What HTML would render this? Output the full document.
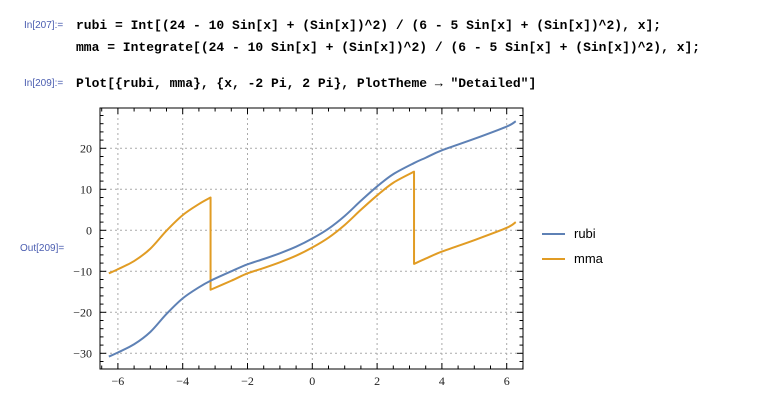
<!DOCTYPE html>
<html><head><meta charset="utf-8"><style>
body{margin:0;background:#fff;width:764px;height:412px;overflow:hidden;position:relative;font-family:"Liberation Sans",sans-serif}
.lbl{position:absolute;font-size:10px;color:#4a5db0;font-family:"Liberation Sans",sans-serif}
.code{position:absolute;font-family:"Liberation Mono",monospace;font-weight:bold;font-size:13px;color:#000;white-space:pre}
</style></head><body>
<div class="lbl" style="left:24px;top:20px">In[207]:=</div>
<div class="code" style="left:76px;top:18px">rubi = Int[(24 - 10 Sin[x] + (Sin[x])^2) / (6 - 5 Sin[x] + (Sin[x])^2), x];</div>
<div class="code" style="left:76px;top:40px">mma = Integrate[(24 - 10 Sin[x] + (Sin[x])^2) / (6 - 5 Sin[x] + (Sin[x])^2), x];</div>
<div class="lbl" style="left:24px;top:78px">In[209]:=</div>
<div class="code" style="left:76px;top:76px">Plot[{rubi, mma}, {x, -2 Pi, 2 Pi}, PlotTheme → "Detailed"]</div>
<div class="lbl" style="left:20px;top:243px">Out[209]=</div>
<svg id="chart" width="764" height="412" style="position:absolute;left:0;top:0" xmlns="http://www.w3.org/2000/svg"></svg>
<script>
const xTicks=[-6,-4,-2,0,2,4,6];
const yTicks=[-30,-20,-10,0,10,20];
const rubiX=[-6.28,-6,-5.5,-5,-4.5,-4,-3.5,-3.14,-2.5,-2,-1.5,-1,-0.5,0,0.5,1,1.5,2,2.5,3.14,3.5,4,5,6,6.28];
const rubiY=[-30.8,-29.8,-27.8,-24.8,-20.4,-16.6,-13.9,-12.3,-10,-8.3,-7,-5.6,-4,-2,0.4,3.5,7.2,10.7,13.7,16.4,17.7,19.5,22.3,25.3,26.6];
const mmaX1=[-6.28,-6,-5.5,-5,-4.5,-4,-3.5,-3.14];
const mmaY1=[-10.5,-9.5,-7.5,-4.5,-0.1,3.7,6.4,8.0];
const mmaX2=[-3.14,-2.5,-2,-1.5,-1,-0.5,0,0.5,1,1.5,2,2.5,3.14];
const mmaY2=[-14.5,-12.3,-10.5,-9.2,-7.8,-6.2,-4.2,-1.8,1.3,5.0,8.5,11.6,14.3];
const mmaX3=[3.14,3.5,4,5,6,6.28];
const mmaY3=[-8.2,-6.9,-5.2,-2.4,0.6,2.0];
const L=100,R=523,T=108,B=369;
const sx=v=>312.3+v*32.4;
const sy=v=>230.3-v*4.1;
const svg=document.getElementById('chart');
const NS='http://www.w3.org/2000/svg';
function mk(tag,attrs,name){const e=document.createElementNS(NS,tag);for(const k in attrs)e.setAttribute(k,attrs[k]);


svg.appendChild(e);return e;}
xTicks.forEach(t=>mk('line',{x1:sx(t),x2:sx(t),y1:T,y2:B,stroke:'#aaa','stroke-width':1,'stroke-dasharray':'2,3'},'x-gridline'));
yTicks.forEach(t=>mk('line',{x1:L,x2:R,y1:sy(t),y2:sy(t),stroke:'#aaa','stroke-width':1,'stroke-dasharray':'2,3'},'y-gridline'));
for(let v=-6.5;v<=6.5;v+=0.5){const maj=Math.abs(v%2)<1e-9;const len=maj?6:3.5;const x=sx(v);if(x<L||x>R)continue;
mk('line',{x1:x,x2:x,y1:B,y2:B-len,stroke:'#000','stroke-width':1},'x-tick');
mk('line',{x1:x,x2:x,y1:T,y2:T+len,stroke:'#000','stroke-width':1},'x-tick-top');}
for(let v=-34;v<=30;v+=2){const maj=v%10===0;const len=maj?6:3.5;const y=sy(v);if(y<T||y>B)continue;
mk('line',{x1:L,x2:L+len,y1:y,y2:y,stroke:'#000','stroke-width':1},'y-tick');
mk('line',{x1:R,x2:R-len,y1:y,y2:y,stroke:'#000','stroke-width':1},'y-tick-right');}
xTicks.forEach(t=>{const e=mk('text',{x:sx(t),y:B+16,'text-anchor':'middle','font-size':12,'font-family':'Liberation Serif, serif',fill:'#222'},'x-tick-label');e.textContent=(t<0?'−':'')+Math.abs(t);});
yTicks.forEach(t=>{const e=mk('text',{x:L-8,y:sy(t)+4,'text-anchor':'end','font-size':12,'font-family':'Liberation Serif, serif',fill:'#222'},'y-tick-label');e.textContent=(t<0?'−':'')+Math.abs(t);});
function path(xs,ys){const p=xs.map((x,i)=>[sx(x),sy(ys[i])]);let d='M'+p[0][0]+','+p[0][1];
for(let i=0;i<p.length-1;i++){const p0=p[Math.max(0,i-1)],p1=p[i],p2=p[i+1],p3=p[Math.min(p.length-1,i+2)];
d+=' C'+(p1[0]+(p2[0]-p0[0])/6)+','+(p1[1]+(p2[1]-p0[1])/6)+' '+(p2[0]-(p3[0]-p1[0])/6)+','+(p2[1]-(p3[1]-p1[1])/6)+' '+p2[0]+','+p2[1];}
return d;}
const mmaD=path(mmaX1,mmaY1)+' L'+sx(mmaX2[0])+','+sy(mmaY2[0])+' '+path(mmaX2,mmaY2).slice(1)+' L'+sx(mmaX3[0])+','+sy(mmaY3[0])+' '+path(mmaX3,mmaY3).slice(1);
mk('path',{d:mmaD,fill:'none',stroke:'#e19c24','stroke-width':2,'stroke-linejoin':'round'},'mma-line');
mk('path',{d:path(rubiX,rubiY),fill:'none',stroke:'#5e81b5','stroke-width':2},'rubi-line');
mk('rect',{x:L,y:T,width:R-L,height:B-T,fill:'none',stroke:'#000','stroke-width':1},'plot-frame');
mk('line',{x1:542,x2:565,y1:234,y2:234,stroke:'#5e81b5','stroke-width':2},'legend-rubi-swatch');
let t=mk('text',{x:574,y:238,'font-size':13,fill:'#000','font-family':'Liberation Sans, sans-serif'},'legend-rubi-label');t.textContent='rubi';
mk('line',{x1:542,x2:565,y1:259,y2:259,stroke:'#e19c24','stroke-width':2},'legend-mma-swatch');
t=mk('text',{x:574,y:263,'font-size':13,fill:'#000','font-family':'Liberation Sans, sans-serif'},'legend-mma-label');t.textContent='mma';
</script>
</body></html>
